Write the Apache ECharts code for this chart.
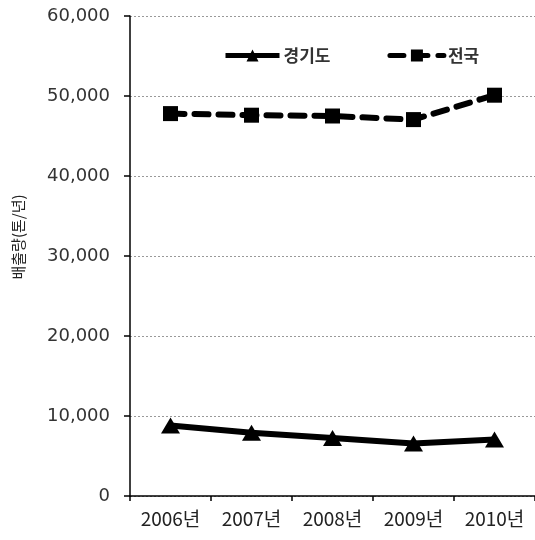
<!DOCTYPE html>
<html>
<head>
<meta charset="utf-8">
<script src="https://cdn.jsdelivr.net/npm/echarts@6/dist/echarts.min.js"></script>
<style>
  html, body { margin: 0; padding: 0; background: #fff; }
  #chart { width: 535px; height: 540px; }
</style>
</head>
<body>
<div id="chart"></div>
<script>
// Annual emissions (tonnes/year), Gyeonggi-do vs. nationwide
const years = ['2006년', '2007년', '2008년', '2009년', '2010년'];
const gyeonggi = [8800, 7900, 7250, 6550, 7050];
const national = [47800, 47600, 47500, 47050, 50100];
const yTicks = { min: 0, max: 60000, interval: 10000 };

const FONT = '"Noto Sans CJK KR", "Noto Sans", sans-serif';
const NUM_FONT = '"DejaVu Sans", sans-serif';
const chart = echarts.init(document.getElementById('chart'), null, { renderer: 'canvas' });

chart.setOption({
  backgroundColor: '#ffffff',
  animation: false,
  textStyle: { fontFamily: FONT },
  grid: { left: 130, top: 16, width: 408, height: 480, containLabel: false },
  legend: {
    top: 42,
    left: 218,
    itemGap: 57,
    itemWidth: 54,
    itemHeight: 15,
    lineStyle: { width: 5 },
    textStyle: { fontFamily: FONT, fontSize: 17, color: '#333', fontWeight: 'bold', padding: [0, 0, 0, -1] },
    data: ['경기도', '전국']
  },
  xAxis: {
    type: 'category',
    data: years,
    boundaryGap: true,
    axisLine: { show: true, lineStyle: { color: '#000', width: 1.5 } },
    axisTick: { show: true, interval: 0, length: 5, inside: false, lineStyle: { color: '#000', width: 1.5 } },
    axisLabel: { interval: 0, hideOverlap: false, fontFamily: FONT, fontSize: 19, color: '#222', margin: 13 },
    splitLine: { show: false }
  },
  yAxis: {
    type: 'value',
    min: yTicks.min,
    max: yTicks.max,
    interval: yTicks.interval,
    name: '배출량(톤/년)',
    nameLocation: 'middle',
    nameGap: 104,
    nameRotate: 90,
    nameTextStyle: { fontFamily: FONT, fontSize: 15, color: '#222', padding: [0, 0, 0, 38] },
    axisLine: { show: true, lineStyle: { color: '#000', width: 1.5 } },
    axisTick: { show: true, length: 6, lineStyle: { color: '#000', width: 1.5 } },
    axisLabel: {
      fontFamily: NUM_FONT, fontSize: 18, color: '#333', margin: 20,
      formatter: v => v.toLocaleString('en-US')
    },
    splitLine: { show: true, lineStyle: { color: '#999', type: [2, 2], width: 1 } }
  },
  series: [
    {
      name: '경기도',
      type: 'line',
      data: gyeonggi,
      symbol: 'triangle',
      symbolSize: [19, 16],
      showAllSymbol: true,
      lineStyle: { color: '#000', width: 6 },
      itemStyle: { color: '#000' },
      z: 3
    },
    {
      name: '전국',
      type: 'line',
      data: national,
      symbol: 'rect',
      symbolSize: 15,
      showAllSymbol: true,
      lineStyle: { color: '#000', width: 6, type: [14, 10], cap: 'round' },
      itemStyle: { color: '#000' },
      z: 3
    }
  ]
});
</script>
</body>
</html>
